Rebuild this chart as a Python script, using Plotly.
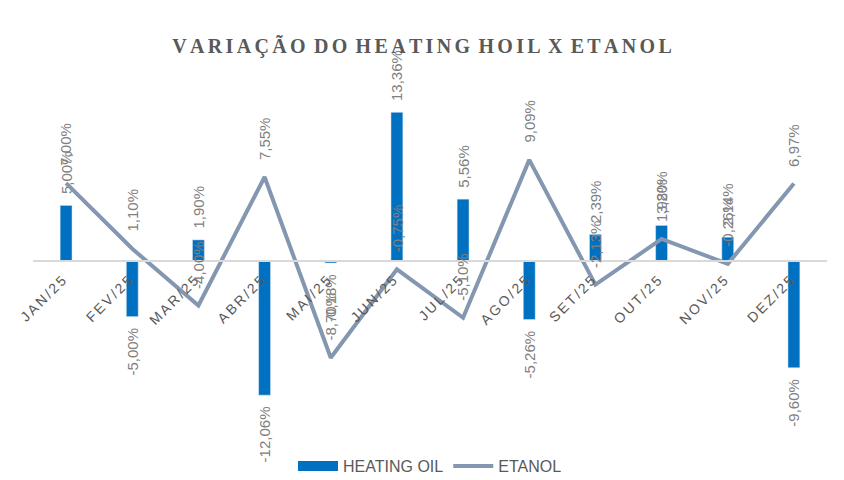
import plotly.graph_objects as go

months = ["JAN/25", "FEV/25", "MAR/25", "ABR/25", "MAI/25", "JUN/25",
          "JUL/25", "AGO/25", "SET/25", "OUT/25", "NOV/25", "DEZ/25"]
heating_oil = [5.00, -5.00, 1.90, -12.06, -0.18, 13.36, 5.56, -5.26, 2.39, 3.20, 2.14, -9.60]
etanol = [7.00, 1.10, -4.00, 7.55, -8.70, -0.75, -5.10, 9.09, -2.13, 1.98, -0.26, 6.97]
title_text = "VARIAÇÃO DO HEATING HOIL X ETANOL"

def fmt(v):
    return f"{v:.2f}%".replace(".", ",")

def bar_label(v):
    pad = "\u00a0\u00a0"
    return pad + fmt(v) if v >= 0 else fmt(v) + pad

def spaced(s, sp="\u200a", wsp=" "):
    return wsp.join(sp.join(w) for w in s.split(" "))

YMIN, YMAX = -16, 16
GRAY = "#595959"
LBL = "#808080"
BLUE = "#0070C0"
LINE = "#8497B0"
LBL_SIZE = 15

fig = go.Figure()
fig.add_trace(go.Bar(
    x=months, y=heating_oil, name="HEATING OIL", showlegend=False,
    marker_color=BLUE, width=0.18,
    text=[bar_label(v) for v in heating_oil], textposition="outside",
    textangle=-90, constraintext="none", cliponaxis=False,
    textfont=dict(family="Liberation Sans, Arial", size=LBL_SIZE, color=LBL),
))
fig.add_trace(go.Scatter(
    x=[None], y=[None], name="HEATING OIL", mode="lines",
    line=dict(color=BLUE, width=10),
))
fig.add_trace(go.Scatter(
    x=months, y=etanol, name="ETANOL", mode="lines",
    line=dict(color=LINE, width=4), cliponaxis=False,
))

annotations = []
for m, v in zip(months, etanol):
    annotations.append(dict(
        x=m, y=v, xref="x", yref="y", text=fmt(v), showarrow=False,
        textangle=-90, yanchor="bottom", xanchor="center", yshift=15,
        font=dict(family="Liberation Sans, Arial", size=LBL_SIZE, color=LBL),
    ))

fig.update_layout(
    width=844, height=480,
    paper_bgcolor="white", plot_bgcolor="white",
    margin=dict(l=33, r=17, t=83, b=41, autoexpand=False),
    title=dict(
        text="<b>" + spaced(title_text, "\u200a\u200a", " \u200a\u200a") + "</b>",
        x=0.5, xanchor="center", y=0.905, yanchor="middle",
        font=dict(family="Liberation Serif, Times New Roman", size=20, color=GRAY),
    ),
    showlegend=True,
    legend=dict(
        orientation="h", x=0.5, xanchor="center", y=-0.076, yanchor="middle",
        font=dict(family="Liberation Sans, Arial", size=16, color=GRAY),
        itemwidth=40,
    ),
    annotations=annotations,
)
fig.update_xaxes(
    anchor="free", position=(0 - YMIN) / (YMAX - YMIN),
    showline=True, linecolor="#D9D9D9", linewidth=2,
    ticks="", tickangle=-45, showgrid=False, zeroline=False,
    ticklabelstandoff=5, ticklabelshift=-4,
    tickvals=months, ticktext=[spaced(m, "\u200a\u200a") for m in months],
    tickfont=dict(family="Liberation Sans, Arial", size=14, color=GRAY),
    range=[-0.5, 11.5],
)
fig.update_yaxes(range=[YMIN, YMAX], visible=False, showgrid=False, zeroline=False)

fig.write_html("out.html", config={"displayModeBar": False},
               post_script="document.body.style.margin='0px';")
